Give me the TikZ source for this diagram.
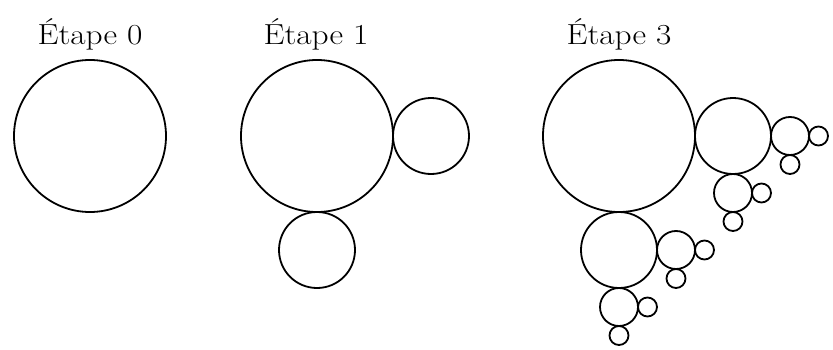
\documentclass[tikz,border=0pt]{standalone}
\usepackage{graphicx}
\tikzset{
  bubble/.style={draw, circle, line width=1.8pt, inner sep=0pt, outer sep=0pt},
  steplabel/.style={anchor=base, inner sep=0pt, font=\fontsize{29}{34}\selectfont}
}
% \bulle{name}{x}{y}{radius}{depth}: a circle with two half-size children,
% one to its right and one below, drawn recursively
\newcommand\bulle[5]{%
  \node[bubble, minimum size={2*#4 pt}] (#1) at (#2pt,#3pt) {};
  \ifnum#5>0
    \pgfmathsetmacro\bullexr{#2+1.5*#4}%
    \pgfmathsetmacro\bulleyb{#3-1.5*#4}%
    \pgfmathsetmacro\bullehalf{#4/2}%
    \pgfmathtruncatemacro\bulledepth{#5-1}%
    {\edef\bullenext{\noexpand\bulle{#1r}{\bullexr}{#3}{\bullehalf}{\bulledepth}}\bullenext}%
    {\edef\bullenext{\noexpand\bulle{#1b}{#2}{\bulleyb}{\bullehalf}{\bulledepth}}\bullenext}%
  \fi}
\begin{document}
\begin{tikzpicture}
  \useasboundingbox (0,0) rectangle (833pt,349pt);
  % step labels
  \node[steplabel] (t0) at (90pt,305pt) {\scalebox{1.15}[1]{Étape 0}};
  \node[steplabel] (t1) at (316pt,305pt) {\scalebox{1.15}[1]{Étape 1}};
  \node[steplabel] (t3) at (619pt,305pt) {\scalebox{1.15}[1]{Étape 3}};
  % the three stages of the circle tree
  \bulle{a}{90}{213}{76}{0}
  \bulle{b}{317}{213}{76}{1}
  \bulle{c}{619}{213}{76}{3}
\end{tikzpicture}
\end{document}
